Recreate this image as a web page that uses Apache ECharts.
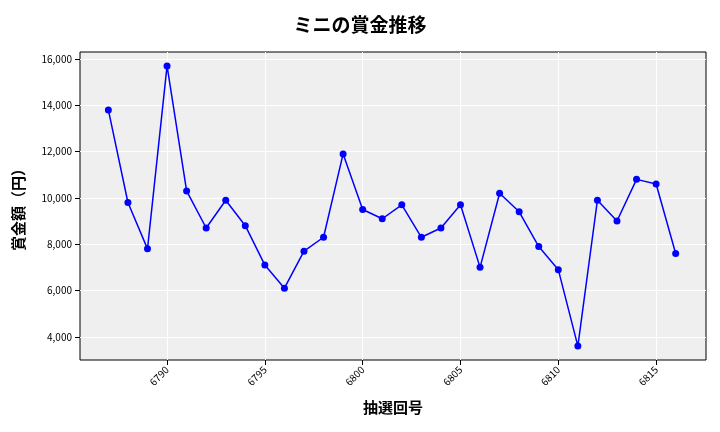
<!DOCTYPE html>
<html>
<head>
<meta charset="utf-8">
<script src="https://cdn.jsdelivr.net/npm/echarts@6/dist/echarts.min.js"></script>
<style>body{margin:0}#main{width:720px;height:432px}</style>
</head>
<body>
<div id="main"></div>
<script>
var draws = [6787,6788,6789,6790,6791,6792,6793,6794,6795,6796,6797,6798,6799,6800,6801,6802,6803,6804,6805,6806,6807,6808,6809,6810,6811,6812,6813,6814,6815,6816];
var prizes = [13800,9800,7800,15700,10300,8700,9900,8800,7100,6100,7700,8300,11900,9500,9100,9700,8300,8700,9700,7000,10200,9400,7900,6900,3600,9900,9000,10800,10600,7600];
var xTicks = [6790,6795,6800,6805,6810,6815];
var yTicks = [4000,6000,8000,10000,12000,14000,16000];

var font = '"Noto Sans CJK JP", "DejaVu Sans", sans-serif';
var myChart = echarts.init(document.getElementById('main'));
myChart.setOption({
    animation: false,
    title: {text: 'ミニの賞金推移', left: 'center', top: 10,
        textStyle: {fontFamily: font, fontSize: 19, fontWeight: 'bold', color: '#000'}},
    grid: {left: 80, right: 14, top: 52, bottom: 72, backgroundColor: '#efefef', show: true, borderWidth: 1, borderColor: '#000'},
    xAxis: {
        type: 'value', min: 6785.55, max: 6817.55,
        name: '抽選回号', nameLocation: 'middle', nameGap: 40,
        nameTextStyle: {fontFamily: font, fontSize: 15, fontWeight: 'bold', color: '#000'},
        axisLine: {show: false},
        axisTick: {show: true, customValues: xTicks, lineStyle: {color: '#000'}},
        axisLabel: {customValues: xTicks, rotate: 45, fontSize: 10, color: '#000', fontFamily: font,
            formatter: function (v) { return String(v); }},
        splitLine: {show: true, lineStyle: {color: '#fff'}}
    },
    yAxis: {
        type: 'value', min: 3000, max: 16300,
        name: '賞金額（円）', nameLocation: 'middle', nameGap: 54,
        nameTextStyle: {fontFamily: font, fontSize: 15, fontWeight: 'bold', color: '#000'},
        axisLine: {show: false},
        axisTick: {show: true, customValues: yTicks, lineStyle: {color: '#000'}},
        axisLabel: {customValues: yTicks, fontSize: 10, color: '#000', fontFamily: font,
            formatter: function (v) { return v.toLocaleString('en-US'); }},
        splitLine: {show: true, lineStyle: {color: '#fff'}}
    },
    series: [{
        type: 'line',
        data: draws.map(function (d, i) { return [d, prizes[i]]; }),
        symbol: 'circle', symbolSize: 7,
        itemStyle: {color: '#0000ff'},
        lineStyle: {color: '#0000ff', width: 1.5}
    }]
});
</script>
</body>
</html>
